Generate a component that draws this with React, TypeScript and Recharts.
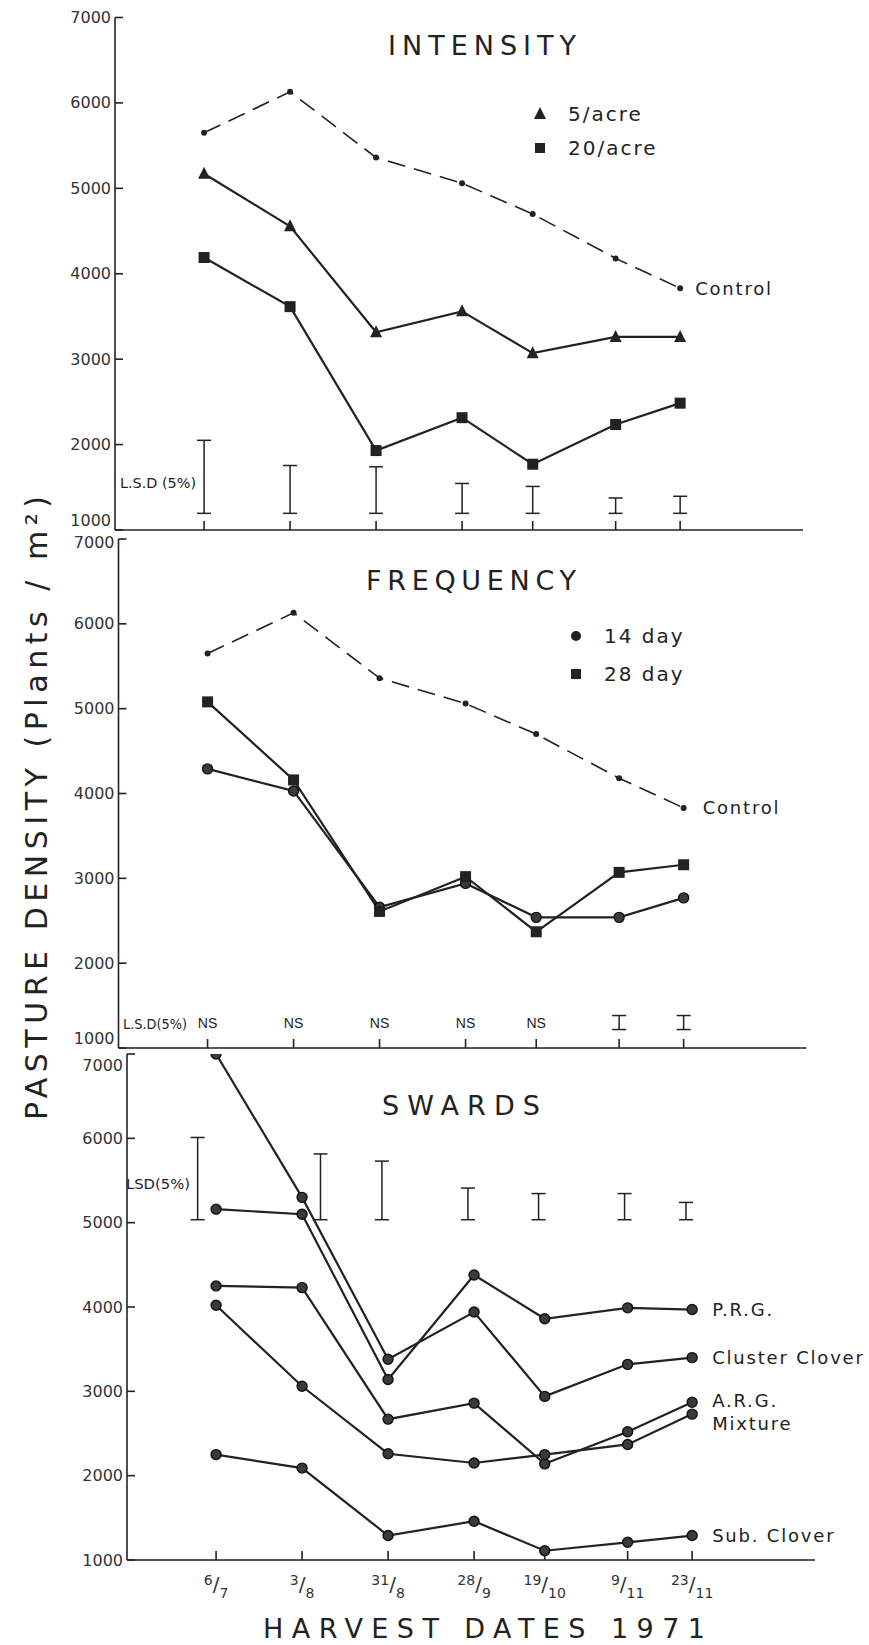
import React from 'react';
import { ErrorBar, LabelList, Legend, Line, LineChart, XAxis, YAxis } from 'recharts';

// harvest dates 1971, x = position on the (unevenly spaced) date axis
const harvestDates = ['6/7', '3/8', '31/8', '28/9', '19/10', '9/11', '23/11'];
const harvestX = [0, 28, 56, 84, 107, 134, 155];

// intensity panel
const control = [5650, 6130, 5360, 5060, 4700, 4180, 3830];
const fiveAcre = [5170, 4555, 3315, 3560, 3070, 3260, 3260];
const twentyAcre = [4190, 3615, 1930, 2315, 1770, 2235, 2485];
const intensityLsd = [855, 560, 545, 350, 315, 180, 200];
const intensityLsdBase = 1195;
const intensityLegend = ['5/acre', '20/acre'];

// frequency panel
const day14 = [4290, 4030, 2660, 2940, 2540, 2540, 2770];
const day28 = [5080, 4160, 2610, 3020, 2370, 3070, 3160];
const frequencyLsd = [null, null, null, null, null, 165, 165];
const frequencyLsdRow = 1300;
const frequencyLegend = ['14 day', '28 day'];

// swards panel
const prg = [5160, 5100, 3140, 4380, 3860, 3990, 3970];
const clusterClover = [7000, 5300, 3380, 3940, 2940, 3320, 3400];
const arg = [4250, 4230, 2670, 2860, 2140, 2520, 2870];
const mixture = [4020, 3060, 2260, 2150, 2250, 2370, 2730];
const subClover = [2250, 2090, 1290, 1460, 1110, 1210, 1290];
const swardLsd = [975, 780, 695, 375, 310, 310, 205];
const swardLsdX = [-6, 34, 54, 82, 105, 133, 153];
const swardLsdBase = 5035;

const INK = '#222';
const FONT = '"DejaVu Sans", sans-serif';
const X_DOMAIN: [number, number] = [-29, 195];
const Y_DOMAIN: [number, number] = [1000, 7000];
const Y_TICKS = [1000, 2000, 3000, 4000, 5000, 6000, 7000];
const LAST = harvestX.length - 1;

const intensityData = harvestX.map((x, i) => ({
  x,
  control: control[i],
  acre5: fiveAcre[i],
  acre20: twentyAcre[i],
  lsdMid: intensityLsdBase + intensityLsd[i] / 2,
  lsdErr: intensityLsd[i] / 2,
}));

const frequencyData = harvestX.map((x, i) => ({
  x,
  control: control[i],
  d14: day14[i],
  d28: day28[i],
  lsdMid: frequencyLsdRow,
  lsdErr: frequencyLsd[i] == null ? null : (frequencyLsd[i] as number) / 2,
}));

const swardData = harvestX.map((x, i) => ({
  x,
  prg: prg[i],
  cluster: clusterClover[i],
  arg: arg[i],
  mixture: mixture[i],
  sub: subClover[i],
}));

const swardLsdData = swardLsdX.map((x, i) => ({
  x,
  lsdMid: swardLsdBase + swardLsd[i] / 2,
  lsdErr: swardLsd[i] / 2,
}));

const axisLine = { stroke: INK, strokeWidth: 1.6 };

function SmallDot(p: any) {
  if (p.cx == null || p.cy == null) return <g key={p.index} />;
  return <circle key={p.index} cx={p.cx} cy={p.cy} r={3} fill={INK} />;
}

function TriangleDot(p: any) {
  if (p.cx == null || p.cy == null) return <g key={p.index} />;
  const { cx, cy } = p;
  return <polygon key={p.index} points={`${cx},${cy - 7} ${cx + 6},${cy + 5} ${cx - 6},${cy + 5}`} fill={INK} />;
}

function SquareDot(p: any) {
  if (p.cx == null || p.cy == null) return <g key={p.index} />;
  return <rect key={p.index} x={p.cx - 5.5} y={p.cy - 5.5} width={11} height={11} fill={INK} />;
}

function CircleDot(p: any) {
  if (p.cx == null || p.cy == null) return <g key={p.index} />;
  return <circle key={p.index} cx={p.cx} cy={p.cy} r={5} fill="#3a3a3a" stroke="#111" strokeWidth={1.4} />;
}

function NsDot(p: any) {
  if (p.cx == null || frequencyLsd[p.index] != null) return <g key={p.index} />;
  return (
    <text key={p.index} x={p.cx} y={p.cy} textAnchor="middle" dominantBaseline="central"
      fontFamily='"Liberation Sans", sans-serif' fontSize={14} fill={INK}>
      NS
    </text>
  );
}

function yTick(topShift: number, bottomShift: number) {
  return (p: any) => {
    const v = p.payload.value;
    const dy = v === 7000 ? topShift : v === 1000 ? bottomShift : 0;
    return (
      <text x={p.x} y={p.y + dy} textAnchor="end" dominantBaseline="central" fontFamily={FONT} fontSize={16} fill="#333">
        {v}
      </text>
    );
  };
}

const noTick = () => <g />;

function dateTick(p: any) {
  const i = harvestX.indexOf(p.payload.value);
  const [num, den] = harvestDates[i].split('/');
  return (
    <text x={p.x} y={p.y + 31} textAnchor="middle" fontFamily={FONT} fill="#333">
      <tspan fontSize={14} dy={-6}>{num}</tspan>
      <tspan fontSize={20} dy={6}>/</tspan>
      <tspan fontSize={14} dy={7}>{den}</tspan>
    </text>
  );
}

function endLabel(text: string, dx: number, dy = 0) {
  return (p: any) =>
    p.index === LAST ? (
      <text x={p.x + dx} y={p.y + dy} dominantBaseline="central" fontFamily={FONT} fontSize={18}
        letterSpacing={1.8} fill={INK}>
        {text}
      </text>
    ) : null;
}

function legendMarker(type: string) {
  if (type === 'triangle') return <polygon points="8,1 14,13 2,13" fill={INK} />;
  if (type === 'square') return <rect x={3} y={3} width={10} height={10} fill={INK} />;
  return <circle cx={8} cy={8} r={5} fill={INK} />;
}

function legendContent(names: string[], rowHeight: number) {
  return (p: any) => {
    const items = names
      .map((n) => (p.payload || []).find((e: any) => e.value === n))
      .filter(Boolean);
    return (
      <div style={{ fontFamily: FONT }}>
        {items.map((e: any) => (
          <div key={e.value} style={{ height: rowHeight, display: 'flex', alignItems: 'center' }}>
            <svg width={16} height={16}>{legendMarker(e.type)}</svg>
            <span style={{ marginLeft: 20, fontSize: 20, letterSpacing: 2, color: INK }}>{e.value}</span>
          </div>
        ))}
      </div>
    );
  };
}

const solid = { stroke: INK, strokeWidth: 2.2, isAnimationActive: false };

export default function App() {
  return (
    <div style={{ position: 'absolute', left: 0, top: 0, width: 869, height: 1645, background: '#fff' }}>
      {/* INTENSITY */}
      <div style={{ position: 'absolute', left: 0, top: 0 }}>
        <LineChart width={869} height={545} data={intensityData} margin={{ top: 17.5, right: 66, bottom: 0, left: 55 }}>
          <XAxis type="number" dataKey="x" domain={X_DOMAIN} ticks={harvestX} interval={0} height={15}
            tickSize={-9} axisLine={axisLine} tickLine={axisLine} tick={noTick} allowDataOverflow />
          <YAxis type="number" domain={Y_DOMAIN} ticks={Y_TICKS} interval={0} width={60} tickSize={-8}
            tickMargin={12} axisLine={axisLine} tickLine={axisLine} tick={yTick(0, -10)} allowDataOverflow />
          <Line dataKey="control" name="control" stroke={INK} strokeWidth={1.6} strokeDasharray="18 9" dot={SmallDot}
            legendType="none" isAnimationActive={false}>
            <LabelList dataKey="control" content={endLabel('Control', 15)} />
          </Line>
          <Line dataKey="acre5" name="5/acre" legendType="triangle" dot={TriangleDot} {...solid} />
          <Line dataKey="acre20" name="20/acre" legendType="square" dot={SquareDot} {...solid} />
          <Line dataKey="lsdMid" stroke="none" dot={false} activeDot={false} legendType="none" isAnimationActive={false}>
            <ErrorBar dataKey="lsdErr" width={7} stroke={INK} strokeWidth={1.5} direction="y" isAnimationActive={false} />
          </Line>
          <Legend layout="horizontal" verticalAlign="middle" align="center"
            content={legendContent(intensityLegend, 34)}
            wrapperStyle={{ position: 'absolute', left: 532, top: 97, width: 200 }} />
        </LineChart>
      </div>

      {/* FREQUENCY */}
      <div style={{ position: 'absolute', left: 0, top: 520 }}>
        <LineChart width={869} height={543} data={frequencyData} margin={{ top: 19, right: 62.5, bottom: 0, left: 58.5 }}>
          <XAxis type="number" dataKey="x" domain={X_DOMAIN} ticks={harvestX} interval={0} height={15}
            tickSize={-9} axisLine={axisLine} tickLine={axisLine} tick={noTick} allowDataOverflow />
          <YAxis type="number" domain={Y_DOMAIN} ticks={Y_TICKS} interval={0} width={60} tickSize={-8}
            tickMargin={12} axisLine={axisLine} tickLine={axisLine} tick={yTick(3, -10)} allowDataOverflow />
          <Line dataKey="control" name="control" stroke={INK} strokeWidth={1.6} strokeDasharray="18 9" dot={SmallDot}
            legendType="none" isAnimationActive={false}>
            <LabelList dataKey="control" content={endLabel('Control', 19)} />
          </Line>
          <Line dataKey="d14" name="14 day" legendType="circle" dot={CircleDot} {...solid} />
          <Line dataKey="d28" name="28 day" legendType="square" dot={SquareDot} {...solid} />
          <Line dataKey="lsdMid" stroke="none" dot={NsDot} activeDot={false} legendType="none" isAnimationActive={false}>
            <ErrorBar dataKey="lsdErr" width={7} stroke={INK} strokeWidth={1.5} direction="y" isAnimationActive={false} />
          </Line>
          <Legend layout="horizontal" verticalAlign="middle" align="center"
            content={legendContent(frequencyLegend, 38)}
            wrapperStyle={{ position: 'absolute', left: 568, top: 97.4, width: 200 }} />
        </LineChart>
      </div>

      {/* SWARDS */}
      <div style={{ position: 'absolute', left: 0, top: 1040 }}>
        <LineChart width={869} height={605} data={swardData} margin={{ top: 14, right: 54, bottom: 0, left: 67 }}>
          <XAxis type="number" dataKey="x" domain={X_DOMAIN} ticks={harvestX} interval={0} height={85}
            tickSize={-9} tickMargin={9} axisLine={axisLine} tickLine={axisLine} tick={dateTick} allowDataOverflow />
          <YAxis type="number" domain={Y_DOMAIN} ticks={Y_TICKS} interval={0} width={60} tickSize={-8}
            tickMargin={12} axisLine={axisLine} tickLine={axisLine} tick={yTick(11, 0)} allowDataOverflow />
          <Line dataKey="cluster" name="Cluster Clover" legendType="none" dot={CircleDot} {...solid}>
            <LabelList dataKey="cluster" content={endLabel('Cluster Clover', 20)} />
          </Line>
          <Line dataKey="prg" name="P.R.G." legendType="none" dot={CircleDot} {...solid}>
            <LabelList dataKey="prg" content={endLabel('P.R.G.', 20)} />
          </Line>
          <Line dataKey="arg" name="A.R.G." legendType="none" dot={CircleDot} {...solid}>
            <LabelList dataKey="arg" content={endLabel('A.R.G.', 20, -2)} />
          </Line>
          <Line dataKey="mixture" name="Mixture" legendType="none" dot={CircleDot} {...solid}>
            <LabelList dataKey="mixture" content={endLabel('Mixture', 20, 9)} />
          </Line>
          <Line dataKey="sub" name="Sub. Clover" legendType="none" dot={CircleDot} {...solid}>
            <LabelList dataKey="sub" content={endLabel('Sub. Clover', 20)} />
          </Line>
          <Line data={swardLsdData} dataKey="lsdMid" stroke="none" dot={false} activeDot={false} legendType="none"
            isAnimationActive={false}>
            <ErrorBar dataKey="lsdErr" width={7} stroke={INK} strokeWidth={1.5} direction="y" isAnimationActive={false} />
          </Line>
        </LineChart>
      </div>

      {/* titles and shared axis text */}
      <svg width={869} height={1645} style={{ position: 'absolute', left: 0, top: 0, pointerEvents: 'none' }}
        fontFamily={FONT} fill={INK}>
        <text x={482} y={45} textAnchor="middle" dominantBaseline="central" fontSize={27} textLength={188}
          lengthAdjust="spacing">INTENSITY</text>
        <text x={471} y={580} textAnchor="middle" dominantBaseline="central" fontSize={27} textLength={210}
          lengthAdjust="spacing">FREQUENCY</text>
        <text x={461} y={1105} textAnchor="middle" dominantBaseline="central" fontSize={27} textLength={158}
          lengthAdjust="spacing">SWARDS</text>
        <text x={120} y={483} dominantBaseline="central" fontSize={14} textLength={76} lengthAdjust="spacingAndGlyphs">
          L.S.D (5%)</text>
        <text x={123} y={1024} dominantBaseline="central" fontSize={14} textLength={64} lengthAdjust="spacingAndGlyphs">
          L.S.D(5%)</text>
        <text x={126} y={1184} dominantBaseline="central" fontSize={14} textLength={64} lengthAdjust="spacingAndGlyphs">
          LSD(5%)</text>
        <text transform="translate(36,808) rotate(-90)" textAnchor="middle" dominantBaseline="central" fontSize={30}
          textLength={624} lengthAdjust="spacing">PASTURE DENSITY (Plants / m²)</text>
        <text x={484} y={1628} textAnchor="middle" dominantBaseline="central" fontSize={27} textLength={442}
          lengthAdjust="spacing">HARVEST DATES 1971</text>
      </svg>
    </div>
  );
}
